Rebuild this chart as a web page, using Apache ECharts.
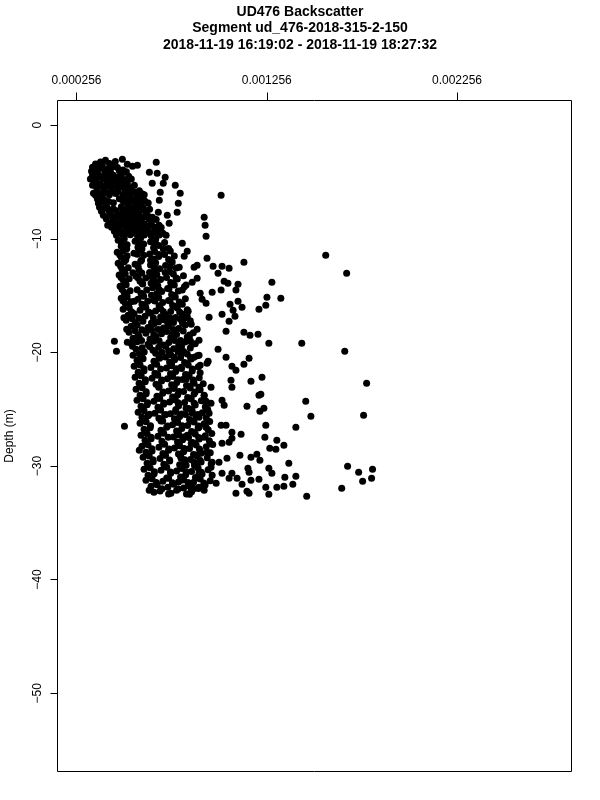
<!DOCTYPE html>
<html>
<head>
<meta charset="utf-8">
<script src="https://cdn.jsdelivr.net/npm/echarts@6/dist/echarts.min.js"></script>
<style>html,body{margin:0;padding:0;background:#fff}#c{width:600px;height:800px}</style>
</head>
<body>
<div id="c"></div>
<script>
// ---- Data (backscatter, depth in m) ----
const titleLines = ['UD476 Backscatter', 'Segment ud_476-2018-315-2-150', '2018-11-19 16:19:02 - 2018-11-19 18:27:32'];
const xTicks = [0.000256, 0.001256, 0.002256];
const yTicks = [0, -10, -20, -30, -40, -50];
const xRange = [0.000156, 0.002858];
const yRange = [-56.89, 2.17];

const topCluster = [
[0.000408,-3.08],[0.000497,-3.0],
[0.000356,-3.43],[0.000392,-3.5],[0.000429,-3.38],[0.000523,-3.45],
[0.000340,-3.70],[0.000377,-3.75],[0.000445,-3.66],[0.000471,-3.72],
[0.000335,-4.05],[0.000366,-4.12],[0.000403,-4.0],[0.000434,-4.08],[0.000481,-4.02],[0.000518,-4.1],
[0.000340,-4.40],[0.000377,-4.45],[0.000413,-4.35],[0.000450,-4.42],[0.000492,-4.38],
[0.000329,-4.75],[0.000361,-4.8],[0.000397,-4.7],[0.000429,-4.78],[0.000466,-4.72],[0.000508,-4.8],[0.000544,-4.74],
[0.000350,-5.11],[0.000382,-5.15],[0.000418,-5.05],[0.000455,-5.12],[0.000487,-5.08],[0.000523,-5.14],
[0.000361,-5.46],[0.000397,-5.5],[0.000434,-5.42],[0.000471,-5.48],[0.000502,-5.44],[0.000539,-5.5],
[0.000366,-5.81],[0.000403,-5.86],[0.000440,-5.78],[0.000476,-5.84],[0.000513,-5.8],[0.000555,-5.85],[0.000586,-5.78],
[0.000356,-6.16],[0.000392,-6.2],[0.000429,-6.12],[0.000502,-6.18],[0.000539,-6.14],[0.000576,-6.2],[0.000612,-6.12],
[0.000366,-6.51],[0.000403,-6.56],[0.000481,-6.48],[0.000518,-6.54],[0.000555,-6.5],[0.000591,-6.55],
[0.000371,-6.87],[0.000408,-6.9],[0.000450,-6.82],[0.000523,-6.88],[0.000560,-6.84],[0.000596,-6.9],[0.000633,-6.85],
[0.000377,-7.22],[0.000418,-7.27],[0.000492,-7.18],[0.000534,-7.24],[0.000570,-7.2],[0.000607,-7.26],
[0.000387,-7.57],[0.000429,-7.62],[0.000466,-7.54],[0.000502,-7.6],[0.000539,-7.56],[0.000576,-7.62],[0.000617,-7.55],
[0.000397,-7.92],[0.000440,-7.96],[0.000476,-7.88],[0.000513,-7.94],[0.000549,-7.9],[0.000586,-7.96],[0.000628,-7.9],
[0.000413,-8.27],[0.000450,-8.32],[0.000487,-8.24],[0.000523,-8.3],[0.000560,-8.26],[0.000596,-8.32],[0.000638,-8.25],[0.000675,-8.3],
[0.000429,-8.63],[0.000466,-8.68],[0.000502,-8.6],[0.000539,-8.66],[0.000576,-8.62],[0.000612,-8.68],[0.000649,-8.6],
[0.000440,-8.98],[0.000476,-9.03],[0.000513,-8.95],[0.000549,-9.01],[0.000586,-8.97],[0.000623,-9.03],[0.000665,-8.96],[0.000701,-9.0],
[0.000455,-9.33],[0.000492,-9.38],[0.000528,-9.3],[0.000565,-9.36],[0.000602,-9.32],[0.000638,-9.38],[0.000680,-9.31],
[0.000466,-9.68],[0.000502,-9.73],[0.000539,-9.65],[0.000576,-9.71],[0.000612,-9.67],[0.000649,-9.73],[0.000691,-9.66],[0.000727,-9.7]
];

const topFill = [
[0.000382,-3.25],[0.000460,-3.2],
[0.000350,-3.92],[0.000420,-3.85],[0.000500,-3.95],
[0.000345,-4.6],[0.000392,-4.55],[0.000440,-4.62],[0.000478,-4.58],[0.000530,-4.5],
[0.000340,-5.3],[0.000372,-5.28],[0.000410,-5.35],[0.000445,-5.25],[0.000505,-5.32],[0.000560,-5.3],
[0.000345,-6.0],[0.000385,-6.05],[0.000420,-5.95],[0.000462,-6.02],[0.000528,-5.98],[0.000600,-6.04],
[0.000385,-6.7],[0.000425,-6.72],[0.000500,-6.66],[0.000540,-6.7],[0.000575,-6.74],[0.000615,-6.68],
[0.000395,-7.4],[0.000450,-7.38],[0.000515,-7.42],[0.000555,-7.36],[0.000590,-7.44],[0.000640,-7.4],
[0.000410,-8.1],[0.000460,-8.12],[0.000495,-8.06],[0.000532,-8.1],[0.000570,-8.14],[0.000610,-8.08],[0.000655,-8.1],
[0.000420,-8.8],[0.000450,-8.84],[0.000490,-8.78],[0.000525,-8.82],[0.000560,-8.8],[0.000600,-8.76],[0.000640,-8.84],[0.000690,-8.8],
[0.000475,-9.5],[0.000515,-9.54],[0.000550,-9.48],[0.000590,-9.52],[0.000625,-9.5],[0.000665,-9.46],[0.000710,-9.52]
];

const topScatter = [
[0.000550,-3.61],[0.000576,-3.52],[0.000675,-3.26],[0.000639,-4.14],[0.000680,-4.23],[0.000722,-4.58],[0.000712,-5.11],
[0.000654,-5.11],[0.000775,-5.28],[0.000696,-5.90],[0.000691,-6.60],[0.000801,-5.99],[0.001016,-6.16],[0.000791,-6.87],
[0.000785,-7.66],[0.000686,-7.66],[0.000733,-7.92],[0.000743,-8.63],[0.000927,-8.10],[0.000932,-8.80],[0.000937,-9.77]
];

const coreCloud = [
[0.000475,-10.12],[0.000507,-10.0],[0.000564,-10.22],[0.000593,-9.94],[0.000645,-10.27],[0.000672,-10.07],[0.000719,-10.32],
[0.000491,-10.65],[0.000522,-10.53],[0.000579,-10.75],[0.000609,-10.47],[0.000661,-10.8],[0.000688,-10.6],[0.000740,-10.85],
[0.000470,-11.18],[0.000502,-11.06],[0.000558,-11.28],[0.000588,-11.0],[0.000640,-11.33],[0.000667,-11.13],[0.000719,-11.38],[0.000749,-11.08],
[0.000491,-11.62],[0.000522,-11.5],[0.000609,-11.44],[0.000661,-11.77],[0.000688,-11.57],[0.000740,-11.82],[0.000770,-11.52],
[0.000475,-12.15],[0.000507,-12.03],[0.000564,-12.25],[0.000593,-11.97],[0.000645,-12.3],[0.000672,-12.1],[0.000724,-12.35],[0.000759,-12.05],
[0.000496,-12.68],[0.000528,-12.56],[0.000585,-12.78],[0.000666,-12.83],[0.000693,-12.63],[0.000745,-12.88],[0.000780,-12.58],
[0.000480,-13.2],[0.000512,-13.08],[0.000569,-13.3],[0.000599,-13.02],[0.000651,-13.35],[0.000678,-13.15],[0.000729,-13.4],[0.000765,-13.1],[0.000818,-13.25],
[0.000501,-13.64],[0.000533,-13.52],[0.000590,-13.74],[0.000620,-13.46],[0.000672,-13.79],[0.000698,-13.59],[0.000751,-13.84],[0.000786,-13.54],
[0.000485,-14.17],[0.000517,-14.05],[0.000604,-13.99],[0.000656,-14.32],[0.000683,-14.12],[0.000735,-14.37],[0.000770,-14.07],[0.000823,-14.22],
[0.000506,-14.7],[0.000538,-14.58],[0.000595,-14.8],[0.000625,-14.52],[0.000677,-14.85],[0.000704,-14.65],[0.000756,-14.9],[0.000791,-14.6],
[0.000491,-15.23],[0.000522,-15.11],[0.000579,-15.33],[0.000609,-15.05],[0.000661,-15.38],[0.000688,-15.18],[0.000740,-15.43],[0.000775,-15.13],[0.000828,-15.28],
[0.000512,-15.67],[0.000543,-15.55],[0.000600,-15.77],[0.000630,-15.49],[0.000709,-15.62],[0.000761,-15.87],[0.000796,-15.57],
[0.000501,-16.2],[0.000533,-16.08],[0.000590,-16.3],[0.000620,-16.02],[0.000672,-16.35],[0.000698,-16.15],[0.000751,-16.4],[0.000786,-16.1],[0.000838,-16.25],
[0.000527,-16.73],[0.000559,-16.61],[0.000616,-16.83],[0.000646,-16.55],[0.000698,-16.88],[0.000725,-16.68],[0.000777,-16.93],[0.000812,-16.63],
[0.000517,-17.17],[0.000549,-17.05],[0.000605,-17.27],[0.000687,-17.32],[0.000714,-17.12],[0.000766,-17.37],[0.000801,-17.07],[0.000854,-17.22],
[0.000543,-17.7],[0.000575,-17.58],[0.000632,-17.8],[0.000662,-17.52],[0.000713,-17.85],[0.000741,-17.65],[0.000793,-17.9],[0.000827,-17.6],
[0.000532,-18.22],[0.000564,-18.1],[0.000621,-18.32],[0.000651,-18.04],[0.000703,-18.37],[0.000730,-18.17],[0.000782,-18.42],[0.000817,-18.12],[0.000870,-18.27],
[0.000553,-18.75],[0.000585,-18.63],[0.000642,-18.85],[0.000672,-18.57],[0.000751,-18.7],[0.000803,-18.95],[0.000838,-18.65],
[0.000543,-19.19],[0.000575,-19.07],[0.000632,-19.29],[0.000662,-19.01],[0.000713,-19.34],[0.000741,-19.14],[0.000793,-19.39],[0.000827,-19.09],[0.000880,-19.24],
[0.000569,-19.72],[0.000601,-19.6],[0.000658,-19.82],[0.000688,-19.54],[0.000740,-19.87],[0.000767,-19.67],[0.000819,-19.92],[0.000854,-19.62],
[0.000553,-20.25],[0.000585,-20.13],[0.000672,-20.07],[0.000724,-20.4],[0.000751,-20.2],[0.000803,-20.45],[0.000838,-20.15],[0.000891,-20.3],
[0.000574,-20.69],[0.000606,-20.57],[0.000663,-20.79],[0.000693,-20.51],[0.000745,-20.84],[0.000772,-20.64],[0.000824,-20.89],[0.000859,-20.59],
[0.000559,-21.22],[0.000590,-21.1],[0.000647,-21.32],[0.000677,-21.04],[0.000729,-21.37],[0.000756,-21.17],[0.000808,-21.42],[0.000843,-21.12],[0.000896,-21.27],
[0.000580,-21.74],[0.000611,-21.62],[0.000668,-21.84],[0.000750,-21.89],[0.000777,-21.69],[0.000829,-21.94],[0.000864,-21.64],[0.000906,-21.79],
[0.000564,-22.18],[0.000596,-22.06],[0.000653,-22.28],[0.000683,-22.0],[0.000734,-22.33],[0.000762,-22.13],[0.000814,-22.38],[0.000848,-22.08],[0.000901,-22.23],
[0.000585,-22.71],[0.000617,-22.59],[0.000674,-22.81],[0.000703,-22.53],[0.000756,-22.86],[0.000783,-22.66],[0.000834,-22.91],[0.000869,-22.61],[0.000922,-22.76],
[0.000569,-23.24],[0.000601,-23.12],[0.000688,-23.06],[0.000740,-23.39],[0.000767,-23.19],[0.000819,-23.44],[0.000854,-23.14],[0.000906,-23.29],
[0.000590,-23.77],[0.000622,-23.65],[0.000679,-23.87],[0.000709,-23.59],[0.000761,-23.92],[0.000788,-23.72],[0.000840,-23.97],[0.000874,-23.67],[0.000927,-23.82],
[0.000574,-24.21],[0.000606,-24.09],[0.000663,-24.31],[0.000693,-24.03],[0.000745,-24.36],[0.000772,-24.16],[0.000824,-24.41],[0.000859,-24.11],[0.000912,-24.26],
[0.000595,-24.74],[0.000627,-24.62],[0.000684,-24.84],[0.000714,-24.56],[0.000793,-24.69],[0.000845,-24.94],[0.000880,-24.64],[0.000933,-24.79],
[0.000580,-25.26],[0.000611,-25.14],[0.000668,-25.36],[0.000698,-25.08],[0.000750,-25.41],[0.000777,-25.21],[0.000829,-25.46],[0.000864,-25.16],[0.000917,-25.31],[0.000946,-25.11],
[0.000600,-25.7],[0.000632,-25.58],[0.000689,-25.8],[0.000719,-25.52],[0.000771,-25.85],[0.000798,-25.65],[0.000850,-25.9],[0.000885,-25.6],[0.000938,-25.75],
[0.000590,-26.23],[0.000622,-26.11],[0.000709,-26.05],[0.000761,-26.38],[0.000788,-26.18],[0.000840,-26.43],[0.000874,-26.13],[0.000927,-26.28],[0.000956,-26.08],
[0.000611,-26.76],[0.000643,-26.64],[0.000700,-26.86],[0.000730,-26.58],[0.000782,-26.91],[0.000809,-26.71],[0.000861,-26.96],[0.000895,-26.66],[0.000948,-26.81],
[0.000595,-27.29],[0.000627,-27.17],[0.000684,-27.39],[0.000714,-27.11],[0.000766,-27.44],[0.000793,-27.24],[0.000845,-27.49],[0.000880,-27.19],[0.000933,-27.34],[0.000967,-27.14],
[0.000616,-27.73],[0.000648,-27.61],[0.000705,-27.83],[0.000787,-27.88],[0.000814,-27.68],[0.000866,-27.93],[0.000901,-27.63],[0.000954,-27.78],
[0.000600,-28.26],[0.000632,-28.14],[0.000689,-28.36],[0.000719,-28.08],[0.000771,-28.41],[0.000798,-28.21],[0.000850,-28.46],[0.000885,-28.16],[0.000938,-28.31],[0.000972,-28.11],
[0.000621,-28.79],[0.000653,-28.67],[0.000710,-28.89],[0.000740,-28.61],[0.000792,-28.94],[0.000819,-28.74],[0.000871,-28.99],[0.000906,-28.69],[0.000959,-28.84],
[0.000606,-29.23],[0.000638,-29.11],[0.000695,-29.33],[0.000724,-29.05],[0.000804,-29.18],[0.000855,-29.43],[0.000890,-29.13],[0.000943,-29.28],
[0.000627,-29.75],[0.000659,-29.63],[0.000715,-29.85],[0.000746,-29.57],[0.000798,-29.9],[0.000824,-29.7],[0.000876,-29.95],[0.000911,-29.65],[0.000964,-29.8],
[0.000611,-30.28],[0.000643,-30.16],[0.000700,-30.38],[0.000730,-30.1],[0.000782,-30.43],[0.000809,-30.23],[0.000861,-30.48],[0.000895,-30.18],[0.000948,-30.33],
[0.000632,-30.81],[0.000664,-30.69],[0.000751,-30.63],[0.000803,-30.96],[0.000830,-30.76],[0.000881,-31.01],[0.000916,-30.71],
[0.000621,-31.25],[0.000653,-31.13],[0.000710,-31.35],[0.000740,-31.07],[0.000792,-31.4],[0.000819,-31.2],[0.000871,-31.45],[0.000906,-31.15],[0.000959,-31.3],
[0.000648,-31.78],[0.000680,-31.66],[0.000736,-31.88],[0.000767,-31.6],[0.000819,-31.93],[0.000845,-31.73],[0.000897,-31.98],[0.000932,-31.68],
[0.000663,-32.31],[0.000695,-32.19],[0.000752,-32.41],[0.000782,-32.13],[0.000834,-32.46],[0.000861,-32.26]
];

const coreFill = [
[0.000492,-10.38],[0.000583,-10.34],[0.000667,-10.36],
[0.000520,-10.88],[0.000600,-10.9],[0.000712,-10.87],
[0.000483,-11.4],[0.000575,-11.36],[0.000690,-11.38],
[0.000515,-11.84],[0.000598,-11.86],[0.000645,-11.9],[0.000752,-11.93],
[0.000488,-12.42],[0.000580,-12.46],[0.000662,-12.44],[0.000748,-12.45],
[0.000505,-12.91],[0.000552,-12.99],[0.000640,-12.97],[0.000722,-12.98],
[0.000490,-13.42],[0.000580,-13.46],[0.000660,-13.44],[0.000780,-13.45],
[0.000512,-13.86],[0.000600,-13.88],[0.000648,-13.92],[0.000760,-13.93],
[0.000495,-14.44],[0.000575,-14.48],[0.000690,-14.46],[0.000742,-14.39],
[0.000520,-14.92],[0.000602,-14.94],[0.000650,-14.98],[0.000770,-14.99],
[0.000500,-15.45],[0.000560,-15.49],[0.000668,-15.47],[0.000748,-15.48],
[0.000528,-15.9],[0.000615,-15.92],[0.000690,-15.89],[0.000770,-15.93],
[0.000545,-16.42],[0.000635,-16.44],[0.000712,-16.41],[0.000798,-16.45],
[0.000505,-16.95],[0.000585,-16.99],[0.000660,-16.97],[0.000748,-16.98],[0.000830,-16.96],
[0.000565,-17.4],[0.000650,-17.42],[0.000735,-17.39],[0.000815,-17.43],
[0.000520,-17.96],[0.000600,-18.0],[0.000685,-17.98],[0.000765,-17.99],
[0.000580,-18.44],[0.000662,-18.46],[0.000760,-18.43],[0.000850,-18.47],
[0.000598,-18.96],[0.000690,-18.98],[0.000772,-18.95],[0.000855,-18.99],
[0.000550,-19.45],[0.000640,-19.49],[0.000725,-19.47],[0.000808,-19.48],
[0.000612,-19.96],[0.000705,-19.98],[0.000790,-19.95],
[0.000600,-20.43],[0.000690,-20.45],[0.000770,-20.42],[0.000855,-20.46],
[0.000585,-20.95],[0.000670,-20.99],[0.000755,-20.97],[0.000835,-20.98],
[0.000610,-21.44],[0.000698,-21.46],[0.000782,-21.43],[0.000865,-21.47],
[0.000590,-21.96],[0.000680,-22.0],[0.000760,-21.98],[0.000842,-21.99],
[0.000618,-22.41],[0.000705,-22.43],[0.000790,-22.4],[0.000870,-22.44],
[0.000595,-22.98],[0.000690,-23.02],[0.000770,-23.0],[0.000850,-23.01],
[0.000622,-23.46],[0.000712,-23.48],[0.000795,-23.45],[0.000880,-23.49],
[0.000600,-24.0],[0.000688,-24.04],[0.000775,-24.02],[0.000852,-24.03],
[0.000630,-24.44],[0.000715,-24.46],[0.000790,-24.43],[0.000875,-24.47],
[0.000605,-25.0],[0.000695,-25.04],[0.000778,-25.02],[0.000860,-25.03],[0.000945,-25.01],
[0.000640,-25.44],[0.000725,-25.46],[0.000808,-25.43],[0.000892,-25.47],
[0.000612,-26.0],[0.000700,-26.04],[0.000785,-26.02],[0.000865,-26.03],
[0.000645,-26.46],[0.000735,-26.48],[0.000812,-26.45],[0.000898,-26.49],
[0.000620,-27.02],[0.000705,-27.06],[0.000790,-27.04],[0.000872,-27.05],
[0.000648,-27.46],[0.000738,-27.48],[0.000818,-27.45],[0.000898,-27.49],
[0.000625,-28.0],[0.000712,-28.04],[0.000795,-28.02],[0.000875,-28.03],[0.000960,-28.01],
[0.000652,-28.48],[0.000742,-28.5],[0.000822,-28.47],[0.000902,-28.51],
[0.000630,-29.0],[0.000718,-29.04],[0.000800,-29.02],[0.000880,-29.03],
[0.000658,-29.46],[0.000745,-29.48],[0.000825,-29.45],[0.000905,-29.49],
[0.000635,-30.0],[0.000720,-30.04],[0.000805,-30.02],[0.000885,-30.03],
[0.000665,-30.51],[0.000750,-30.53],[0.000832,-30.5],[0.000912,-30.54],
[0.000645,-31.02],[0.000730,-31.06],[0.000812,-31.04],[0.000895,-31.05],
[0.000675,-31.46],[0.000760,-31.48],[0.000842,-31.45],[0.000925,-31.49],
[0.000705,-32.01],[0.000790,-32.03],[0.000872,-32.0],
[0.000740,-32.46],[0.000850,-32.48]
];

const leftOutliers = [
[0.000455,-19.01],[0.000523,-19.10],[0.000466,-19.89],[0.000508,-26.5],[0.000586,-28.61],[0.000638,-32.13]
];

const rightScatter = [
[0.000812,-10.39],[0.000838,-11.09],[0.000822,-11.53],[0.000942,-11.71],[0.001136,-12.06],[0.001566,-11.44],[0.001676,-13.03],
[0.000796,-12.50],[0.000874,-12.50],[0.000890,-12.32],[0.000974,-12.41],[0.001021,-12.41],[0.001058,-12.59],[0.001000,-13.03],
[0.001283,-13.82],[0.001032,-13.73],[0.001052,-13.91],[0.001105,-14.00],[0.000832,-14.08],[0.000864,-13.82],[0.000890,-13.47],
[0.000969,-14.70],[0.001016,-14.52],[0.001094,-14.52],[0.000812,-14.52],[0.000906,-14.79],[0.001257,-15.14],[0.001330,-15.23],
[0.000812,-15.76],[0.000916,-15.32],[0.000937,-15.67],[0.001063,-15.76],[0.001105,-15.49],[0.001126,-16.02],[0.001079,-16.29],
[0.001215,-16.20],[0.001251,-15.85],[0.001021,-16.64],[0.000953,-16.90],[0.001058,-17.25],[0.001089,-16.81],[0.000843,-16.37],
[0.000838,-16.81],[0.000812,-17.34],[0.000859,-17.52],[0.000890,-17.96],[0.001042,-18.13],[0.001136,-18.22],[0.001168,-18.49],
[0.001210,-18.40],[0.001267,-19.19],[0.001440,-19.19],[0.001666,-19.89],[0.000848,-18.66],[0.000900,-18.93],[0.000864,-19.28],
[0.001000,-19.72],[0.001042,-20.42],[0.001163,-20.51],[0.001136,-21.04],[0.001073,-21.22],[0.001094,-21.57],[0.000900,-20.25],
[0.000874,-20.42],[0.000948,-20.78],[0.000906,-21.13],[0.000942,-20.95],[0.000812,-20.07],[0.000806,-21.30],[0.001068,-22.45],
[0.001073,-23.06],[0.001173,-22.54],[0.001231,-22.18],[0.001781,-22.71],[0.000832,-22.36],[0.000874,-22.71],[0.000900,-23.06],
[0.000963,-23.06],[0.000927,-23.77],[0.001225,-23.68],[0.001215,-23.77],[0.001461,-24.30],[0.001021,-24.21],[0.001032,-24.65],
[0.000937,-24.30],[0.000963,-24.47],[0.001152,-24.74],[0.001241,-24.91],[0.001220,-25.18],[0.001488,-25.62],[0.001765,-25.53],
[0.000832,-24.91],[0.000864,-25.35],[0.000953,-25.35],[0.000900,-25.70],[0.001251,-26.41],[0.001409,-26.58],[0.001016,-26.41],
[0.001042,-26.41],[0.001073,-27.02],[0.001121,-27.20],[0.000937,-26.58],[0.000900,-26.58],[0.000838,-27.29],[0.000927,-27.46],
[0.000864,-27.99],[0.001246,-27.46],[0.001309,-27.73],[0.001346,-28.17],[0.001272,-28.43],[0.001304,-28.52],[0.001021,-27.99],
[0.001058,-27.90],[0.001073,-27.55],[0.001115,-29.05],[0.001173,-29.23],[0.001204,-28.96],[0.001220,-29.49],[0.001372,-29.75],
[0.001157,-30.19],[0.001163,-30.55],[0.001047,-29.31],[0.001005,-29.67],[0.000963,-30.11],[0.000969,-29.67],[0.001267,-30.19],
[0.001283,-30.63],[0.001351,-30.99],[0.001409,-30.90],[0.001058,-31.07],[0.001100,-31.07],[0.001126,-31.60],[0.001173,-31.25],
[0.001215,-31.16],[0.001251,-31.87],[0.001267,-32.48],[0.001309,-31.87],[0.001346,-31.78],[0.001393,-31.60],[0.001466,-32.66],
[0.001650,-31.95],[0.001681,-30.02],[0.001739,-30.55],[0.001812,-30.28],[0.001760,-31.34],[0.001807,-31.07],[0.001094,-32.40],
[0.001152,-32.22],[0.001163,-32.40],[0.000990,-31.51],[0.001021,-30.63],[0.001073,-30.63],[0.000969,-30.81],[0.000900,-30.63],
[0.000864,-31.51],[0.000900,-31.87],[0.000927,-32.13],[0.000859,-32.13],[0.000806,-31.25],[0.000832,-29.93],[0.000874,-29.67],
[0.000911,-28.87],[0.000942,-28.79],[0.000822,-28.61],[0.000859,-27.99],[0.000806,-29.31]
];

const points = [].concat(topCluster, topFill, topScatter, coreCloud, coreFill, leftOutliers, rightScatter);

const FONT = 'Liberation Sans, Arial, Helvetica, sans-serif';
const chart = echarts.init(document.getElementById('c'), null, {renderer: 'canvas'});
chart.setOption({
  animation: false,
  backgroundColor: '#fff',
  title: {
    text: titleLines.join('\n'),
    left: 'center', top: 4, padding: 0,
    textStyle: {fontFamily: FONT, fontSize: 14, fontWeight: 'bold', lineHeight: 16.3, color: '#000'}
  },
  grid: {
    left: 57.5, top: 100.5, right: 28.5, bottom: 28.5,
    show: true, borderColor: '#000', borderWidth: 1, backgroundColor: 'transparent',
    outerBoundsMode: 'none', containLabel: false
  },
  xAxis: {
    type: 'value', position: 'top', min: xRange[0], max: xRange[1],
    splitLine: {show: false}, axisLine: {show: false, onZero: false},
    axisTick: {show: true, length: 8, customValues: xTicks, lineStyle: {color: '#000', width: 1}},
    axisLabel: {customValues: xTicks, margin: 14, fontSize: 12, color: '#000', fontFamily: FONT,
      formatter: v => v.toFixed(6)}
  },
  yAxis: {
    type: 'value', min: yRange[0], max: yRange[1],
    name: 'Depth (m)', nameLocation: 'middle', nameGap: 42, nameRotate: 90,
    nameTextStyle: {fontSize: 12, color: '#000', fontFamily: FONT},
    splitLine: {show: false}, axisLine: {show: false, onZero: false},
    axisTick: {show: true, length: 7, customValues: yTicks, lineStyle: {color: '#000', width: 1}},
    axisLabel: {customValues: yTicks, rotate: 90, margin: 14, fontSize: 12, color: '#000', fontFamily: FONT,
      formatter: v => String(Math.round(v)).replace('-', '\u2212')}
  },
  series: [{
    type: 'scatter', data: points, symbol: 'circle', symbolSize: 7,
    itemStyle: {color: '#000', opacity: 1}, silent: true, large: false
  }]
});
</script>
</body>
</html>
